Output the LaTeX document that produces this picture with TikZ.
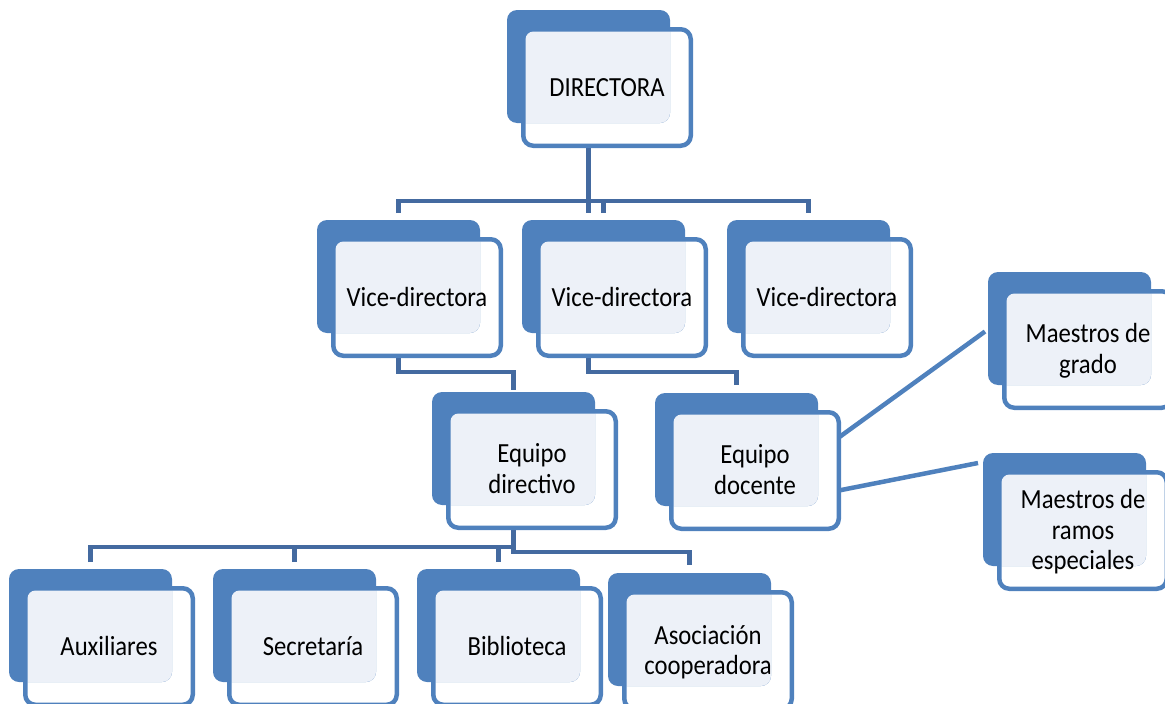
\documentclass[tikz,border=0pt]{standalone}
\usepackage{fontspec}
\setmainfont{Carlito}
\usetikzlibrary{calc,backgrounds}
\definecolor{backblue}{RGB}{79,129,189}
\definecolor{lightfill}{RGB}{237,241,248}
\definecolor{connblue}{RGB}{68,106,160}
\tikzset{
  backbox/.style={fill=backblue, rounded corners=10pt, minimum width=163pt, minimum height=113pt, inner sep=0pt, outer sep=0pt},
  frontbox/.style={draw=backblue, fill=white, line width=4.5pt, rounded corners=10pt, minimum width=167.5pt, minimum height=116.5pt, inner sep=0pt, outer sep=0pt},
  txt/.style={font=\fontsize{24.7}{26.8}\selectfont, text=black, inner sep=0pt},
  conn/.style={draw=connblue, line width=4.5pt},
  sideconn/.style={draw=backblue, line width=4.5pt}
}
\newcommand\talltext[1]{\scalebox{1}[1.12]{\begin{tabular}{@{}c@{}}#1\end{tabular}}}
\newcommand\orgbox[4]{%
  \node[frontbox] (#1) at (#2+100,#3+77.5) {};
  \node[backbox] (#1B) at (#2+81.5,#3+56.5) {};
  \begin{scope}
    \clip[rounded corners=10pt] (#1B.south west) rectangle (#1B.north east);
    \fill[lightfill, rounded corners=8pt] ([shift={(2.25pt,-2.25pt)}]#1.north west) rectangle ([shift={(-2.25pt,2.25pt)}]#1.south east);
  \end{scope}
  \node[txt] (#1T) at ([yshift=-2.5pt]#1.center) {\talltext{#4}};}
\begin{document}
\begin{tikzpicture}[x=1pt,y=-1pt]
\useasboundingbox (0,0) rectangle (1165,704);
\clip (0,0) rectangle (1165,704);
\orgbox{dir}{507}{10}{DIRECTORA}
\orgbox{va}{317}{220}{Vice-directora}
\orgbox{vb}{522}{220}{Vice-directora}
\orgbox{vc}{727}{220}{Vice-directora}
\orgbox{edir}{432}{392}{Equipo\\directivo}
\orgbox{edoc}{655}{393}{Equipo\\docente}
\orgbox{mg}{988}{272}{Maestros de\\grado}
\orgbox{mr}{983}{453}{Maestros de\\ramos\\especiales}
\orgbox{aux}{9}{569}{Auxiliares}
\orgbox{sec}{213}{569}{Secretaría}
\orgbox{bib}{417}{569}{Biblioteca}
\orgbox{aso}{608}{573}{Asociación\\cooperadora}
\begin{pgfonlayer}{background}
  % Directora to vice-directoras
  \draw[conn] (dirB.south) -- ($(dirB.south |- vaB.north)+(0pt,7pt)$);
  \draw[conn] ($(vaB.north)+(0pt,7pt)$) -- ($(vaB.north)+(0pt,19pt)$) -| ($(vcB.north)+(0pt,7pt)$);
  \draw[conn] ($(vbB.north)+(0pt,7pt)$) -- ($(vbB.north)+(0pt,19pt)$);
  % vice-directoras to equipos
  \draw[conn] (vaB.south) -- ++(0,39) -| ($(edirB.north)+(0pt,2pt)$);
  \draw[conn] ([xshift=-15pt]vbB.south) -- ++(0,39) -| ($(edocB.north)+(0pt,8pt)$);
  % equipo directivo to bottom row
  \draw[conn] (edirB.south) |- ($(asoB.north)+(0pt,21pt)$) -- ($(asoB.north)+(0pt,8pt)$);
  \draw[conn] ($(auxB.north)+(0pt,7pt)$) |- ($(edirB.south)+(0pt,-42pt)$);
  \draw[conn] ($(secB.north)+(0pt,7pt)$) -- ++(0pt,15pt);
  \draw[conn] ($(bibB.north)+(0pt,7pt)$) -- ++(0pt,15pt);
  % equipo docente to maestros
  \draw[sideconn] ([yshift=33pt]edoc.east) -- ([shift={(-3pt,-3pt)}]mgB.west);
  \draw[sideconn] ([yshift=-20pt]edoc.east) -- ([shift={(-5pt,-10pt)}]mrB.north west);
\end{pgfonlayer}
\end{tikzpicture}
\end{document}
